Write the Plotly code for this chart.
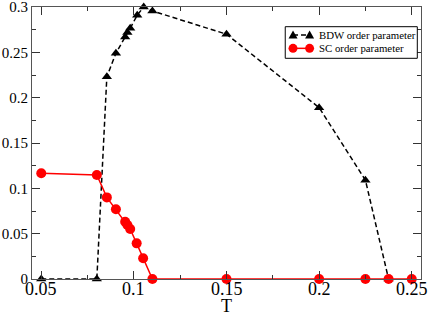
import plotly.graph_objects as go

# BDW order parameter
bdw_T = [0.05, 0.08, 0.0854, 0.0903, 0.0953, 0.0965, 0.098, 0.1018, 0.1053, 0.11, 0.15, 0.2, 0.225, 0.2375]
bdw_v = [0.0, 0.0, 0.223, 0.249, 0.267, 0.272, 0.2765, 0.291, 0.3, 0.2956, 0.27, 0.189, 0.109, 0.0]

# SC order parameter
sc_T = [0.05, 0.08, 0.0854, 0.0903, 0.0953, 0.0965, 0.098, 0.1015, 0.105, 0.11, 0.15, 0.2, 0.225, 0.2375, 0.25]
sc_v = [0.1166, 0.1147, 0.090, 0.0769, 0.0632, 0.0596, 0.0551, 0.0393, 0.0228, 0.0, 0.0, 0.0, 0.0, 0.0, 0.0]

x_ticks = [0.05, 0.1, 0.15, 0.2, 0.25]
x_labels = ["0.05", "0.1", "0.15", "0.2", "0.25"]
y_ticks = [0, 0.05, 0.1, 0.15, 0.2, 0.25, 0.3]
y_labels = ["0", "0.05", "0.1", "0.15", "0.2", "0.25", "0.3"]

series_names = ["BDW order parameter", "SC order parameter"]

SERIF = "Liberation Serif, Times New Roman, serif"

fig = go.Figure()
fig.add_trace(go.Scatter(
    x=bdw_T, y=bdw_v, mode="lines+markers", name=series_names[0],
    line=dict(color="black", width=1.5, dash="5px,3px"),
    marker=dict(symbol="triangle-up", size=9, color="black"),
    cliponaxis=False, showlegend=False,
))
fig.add_trace(go.Scatter(
    x=sc_T, y=sc_v, mode="lines+markers", name=series_names[1],
    line=dict(color="#ff0000", width=1.5),
    marker=dict(symbol="circle", size=10, color="#ff0000"),
    cliponaxis=False, showlegend=False,
))

axis_common = dict(
    showgrid=False, zeroline=False, showline=True, linecolor="#555555", linewidth=1,
    mirror="allticks", ticks="inside", ticklen=8, tickcolor="#333333", tickwidth=1,
    automargin=False, ticklabeloverflow="allow",
)

fig.update_xaxes(
    range=[0.045, 0.255], tickvals=x_ticks, ticktext=x_labels, showticklabels=False,
    minor=dict(ticks="inside", ticklen=4, dtick=0.025, tick0=0.05, tickcolor="#333333"),
    **axis_common,
)
fig.update_yaxes(
    range=[0, 0.3], tickvals=y_ticks, ticktext=y_labels,
    tickfont=dict(family=SERIF, size=15, color="black"),
    minor=dict(ticks="inside", ticklen=4, dtick=0.025, tick0=0, tickcolor="#333333"),
    ticklabelstandoff=0,
    **axis_common,
)

# x tick labels as annotations (placed tight to the axis as in the reference)
for xv, lab in zip(x_ticks, x_labels):
    fig.add_annotation(
        text=lab, x=xv, xref="x", yref="paper", y=-0.038,
        xanchor="center", yanchor="middle", showarrow=False,
        font=dict(family=SERIF, size=18, color="black"),
    )

fig.add_annotation(
    text="T", xref="paper", yref="paper", x=0.5, y=-0.099,
    xanchor="center", yanchor="middle", showarrow=False,
    font=dict(family=SERIF, size=18, color="black"),
)

# ---- custom legend (xmgrace style: two symbols joined by a line) ----
shapes = [dict(type="rect", xref="paper", yref="paper", x0=0.651, x1=0.9905, y0=0.8114, y1=0.9276,
               line=dict(color="black", width=1), fillcolor="white", layer="above")]
row_y = [0.897, 0.848]
mx = [0.671, 0.7136]
# BDW row
shapes.append(dict(type="line", xref="paper", yref="paper", x0=mx[0], x1=mx[1], y0=row_y[0], y1=row_y[0],
                   line=dict(color="black", width=1.5, dash="5px,3px"), layer="above"))
for m in mx:
    shapes.append(dict(type="path", xref="paper", yref="paper", xsizemode="pixel", ysizemode="pixel",
                       xanchor=m, yanchor=row_y[0], path="M -4.5,-3.5 L 4.5,-3.5 L 0,4.5 Z",
                       fillcolor="black", line=dict(color="black", width=0), layer="above"))
# SC row
shapes.append(dict(type="line", xref="paper", yref="paper", x0=mx[0], x1=mx[1], y0=row_y[1], y1=row_y[1],
                   line=dict(color="#ff0000", width=1.5), layer="above"))
for m in mx:
    shapes.append(dict(type="circle", xref="paper", yref="paper", xsizemode="pixel", ysizemode="pixel",
                       xanchor=m, yanchor=row_y[1], x0=-4.5, x1=4.5, y0=-4.5, y1=4.5,
                       fillcolor="#ff0000", line=dict(color="#ff0000", width=0), layer="above"))
for name, ry in zip(series_names, row_y):
    fig.add_annotation(
        text=name, xref="paper", yref="paper", x=0.7327, y=ry,
        xanchor="left", yanchor="middle", showarrow=False,
        font=dict(family=SERIF, size=10.8, color="black"),
    )

fig.update_layout(
    width=429, height=314,
    margin=dict(l=32, r=8, t=7, b=35),
    paper_bgcolor="white", plot_bgcolor="white",
    font=dict(family=SERIF, color="black"),
    showlegend=False,
    shapes=shapes,
)

fig.write_html(
    "out.html",
    config={"displayModeBar": False},
    post_script="document.body.style.margin='0';document.body.style.padding='0';",
)
